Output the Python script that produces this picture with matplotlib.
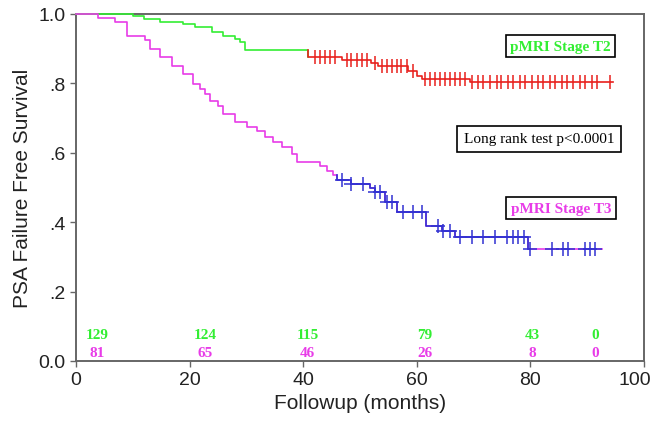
import matplotlib
matplotlib.use("Agg")
import matplotlib.pyplot as plt
import matplotlib.transforms as mtransforms
import numpy as np

# ---------------- data ----------------
# pMRI Stage T2: event times (months) and survival after each event
t2_event_t = [10.1, 12.0, 14.8, 18.9, 21.0, 23.9, 25.9, 28.0, 28.9, 29.8, 40.8,
              46.8, 52.0, 53.2, 58.5, 60.0, 60.9, 69.4]
t2_event_s = [0.993, 0.986, 0.978, 0.971, 0.962, 0.947, 0.937, 0.928, 0.920, 0.896, 0.876,
              0.868, 0.859, 0.851, 0.837, 0.822, 0.813, 0.805]
t2_end = 94.6
t2_split = 40.8  # colour changes from green to red here
t2_censor = [42.1, 43.0, 43.8, 44.7, 45.6, 47.7, 48.5, 49.4, 50.3, 51.2, 52.6,
             53.8, 54.7, 55.6, 56.5, 57.3, 58.2, 59.4, 61.4, 62.3, 63.2, 64.1, 64.9,
             65.8, 66.7, 67.6, 68.5, 69.7, 70.8, 71.7, 72.9, 74.1, 74.9, 76.1, 77.0,
             78.2, 79.0, 80.2, 81.4, 82.3, 83.5, 84.3, 85.5, 86.4, 87.5, 88.7, 89.6,
             90.8, 91.7, 94.0]

# pMRI Stage T3
t3_event_t = [3.9, 6.9, 9.0, 12.1, 13.0, 14.8, 16.9, 18.8, 20.6, 21.8, 22.7, 23.6,
              25.0, 25.9, 28.0, 30.1, 31.9, 33.3, 34.7, 36.3, 38.0, 38.9, 43.0, 44.2,
              45.2, 46.0, 48.5, 51.8, 52.6, 54.4, 56.5, 61.7, 64.4, 66.7, 79.6]
t3_event_s = [0.988, 0.976, 0.937, 0.925, 0.900, 0.875, 0.850, 0.827, 0.798, 0.784,
              0.769, 0.749, 0.735, 0.712, 0.689, 0.674, 0.663, 0.646, 0.631, 0.617,
              0.597, 0.573, 0.562, 0.548, 0.536, 0.523, 0.510, 0.498, 0.486, 0.457,
              0.430, 0.390, 0.376, 0.356, 0.323]
t3_end = 92.6
t3_blue_from = 46.0
t3_blue_to = 79.6
t3_censor = [46.8, 48.5, 50.6, 52.6, 53.5, 54.7, 55.6, 57.6, 59.4, 60.9, 63.8, 64.7,
             65.8, 67.6, 69.7, 71.7, 73.8, 75.8, 77.0, 77.9, 78.8, 79.9, 83.8, 85.8,
             86.7, 89.6, 90.5, 91.4]

# numbers at risk
risk_x = [3.7, 22.7, 40.8, 61.4, 80.4, 91.4]
risk_t2 = ["129", "124", "115", "79", "43", "0"]
risk_t3 = ["81", "65", "46", "26", "8", "0"]

x_ticks = [0, 20, 40, 60, 80, 100]
y_ticks = [0.0, 0.2, 0.4, 0.6, 0.8, 1.0]
y_ticklabels = ["0.0", ".2", ".4", ".6", ".8", "1.0"]

GREEN = "#33ee33"
RED = "#e8201c"
MAGENTA = "#e83ce8"
BLUE = "#3232d2"


def surv_at(t, ev_t, ev_s):
    s = 1.0
    for et, es in zip(ev_t, ev_s):
        if et <= t:
            s = es
    return s


def step_xy(ev_t, ev_s, t0, t1):
    xs = [t0]
    ys = [surv_at(t0, ev_t, ev_s)]
    for et, es in zip(ev_t, ev_s):
        if t0 < et <= t1:
            xs += [et, et]
            ys += [ys[-1], es]
    xs.append(t1)
    ys.append(ys[-1])
    return xs, ys


fig = plt.figure(figsize=(6.53, 4.27), dpi=100)
ax = fig.add_axes([76 / 653, 1 - 362 / 427, (644 - 76) / 653, (362 - 15) / 427])

lw = 1.2
# T2
x, y = step_xy(t2_event_t, t2_event_s, 0, t2_split)
ax.plot(x, y, color=GREEN, lw=lw, clip_on=False, zorder=3)
x, y = step_xy(t2_event_t, t2_event_s, t2_split - 0.001, t2_end)
ax.plot(x, y, color=RED, lw=lw, clip_on=False, zorder=3)
ax.plot(t2_censor, [surv_at(c, t2_event_t, t2_event_s) for c in t2_censor],
        ls="none", marker="|", ms=10, mew=1.1, color=RED, zorder=4)

# T3
x, y = step_xy(t3_event_t, t3_event_s, 0, t3_end)
ax.plot(x, y, color=MAGENTA, lw=lw, clip_on=False, zorder=3)
x, y = step_xy(t3_event_t, t3_event_s, t3_blue_from - 0.001, t3_blue_to)
ax.plot(x, y, color=BLUE, lw=lw, zorder=3)
ax.plot(t3_censor, [surv_at(c, t3_event_t, t3_event_s) for c in t3_censor],
        ls="none", marker="+", ms=10, mew=1.1, color=BLUE, zorder=4)

# numbers at risk
serif = dict(family="Liberation Serif", weight="bold", fontsize=11)
for xx, a, b in zip(risk_x, risk_t2, risk_t3):
    ax.text(xx, 0.077, a, color=GREEN, ha="center", va="center", **serif)
    ax.text(xx, 0.024, b, color=MAGENTA, ha="center", va="center", **serif)

box = dict(boxstyle="square,pad=0.3", fc="white", ec="black", lw=1.2)
ax.text(85.3, 0.907, "pMRI Stage T2", color=GREEN, ha="center", va="center",
        bbox=box, **serif)
ax.text(85.4, 0.44, "pMRI Stage T3", color=MAGENTA, ha="center", va="center",
        bbox=box, **serif)
ax.text(81.5, 0.64, "Long rank test p<0.0001", color="black", ha="center", va="center",
        family="Liberation Serif", fontsize=11,
        bbox=dict(boxstyle="square,pad=0.45", fc="white", ec="black", lw=1.2))

ax.set_xlim(0, 100)
ax.set_ylim(0, 1)
ax.set_xticks(x_ticks)
ax.set_yticks(y_ticks)
ax.set_yticklabels(y_ticklabels)
for sp in ax.spines.values():
    sp.set_color("#666666")
    sp.set_linewidth(1.4)
ax.tick_params(direction="out", length=4, width=1, color="#666666",
               labelsize=14, labelcolor="#222222")
for lab in ax.get_xticklabels() + ax.get_yticklabels():
    lab.set_family("Liberation Sans")
# keep the last x tick label inside the figure
last = ax.get_xticklabels()[-1]
last.set_transform(last.get_transform() +
                   mtransforms.ScaledTranslation(-9 / 100, 0, fig.dpi_scale_trans))
ax.set_xlabel("Followup (months)", fontsize=15, family="Liberation Sans",
              color="#222222", labelpad=3)
ax.set_ylabel("PSA Failure Free Survival", fontsize=15, family="Liberation Sans",
              color="#222222", labelpad=5)

fig.savefig("out.png", dpi=100)
